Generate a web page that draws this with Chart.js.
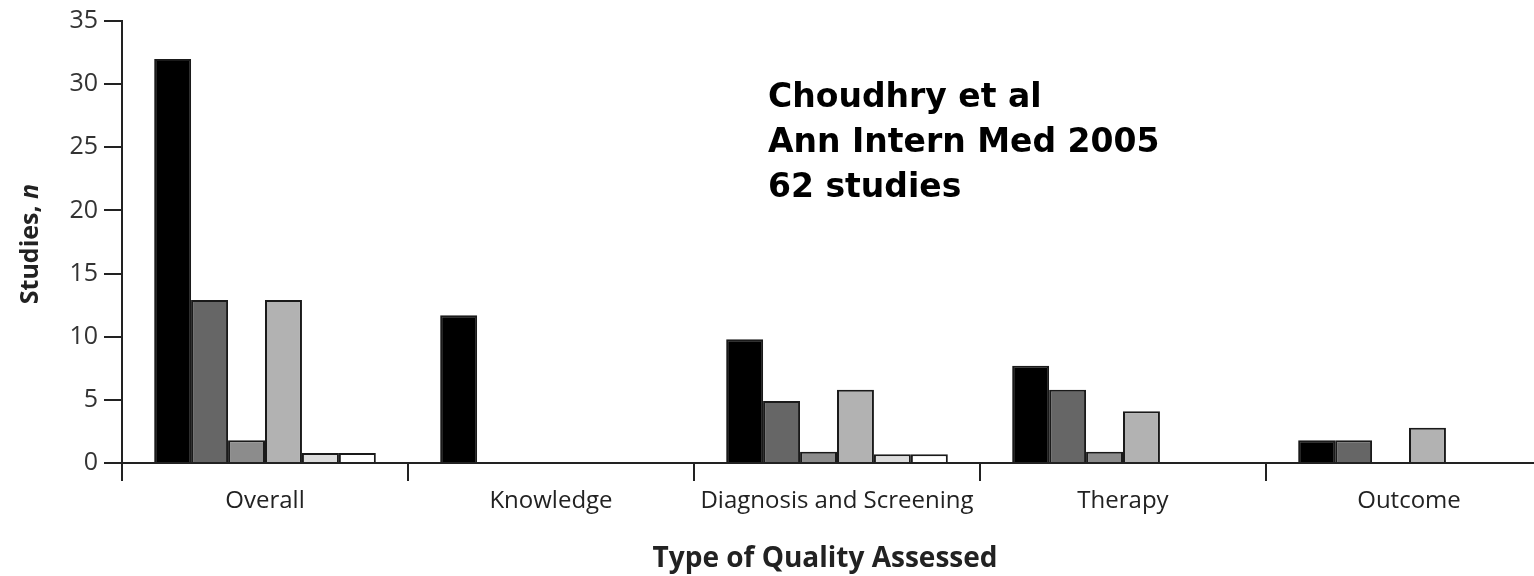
<!DOCTYPE html>
<html>
<head>
<meta charset="utf-8">
<script src="https://cdn.jsdelivr.net/npm/chart.js@4.4.1/dist/chart.umd.min.js"></script>
<style>
    html, body { margin: 0; padding: 0; background: #fff; overflow: hidden; }
    #wrap { position: absolute; left: 0; top: 0; width: 1552px; height: 576px; }
</style>
</head>
<body>
<div id="wrap"><canvas id="qualityChart"></canvas></div>
<script>
// categories and series
const categories = ['Overall', 'Knowledge', 'Diagnosis and Screening', 'Therapy', 'Outcome'];
const seriesA = [32, 11.7, 9.8, 7.7, 1.8];
const seriesB = [12.9, 0, 4.9, 5.8, 1.8];
const seriesC = [1.8, 0, 0.9, 0.9, 0];
const seriesD = [12.9, 0, 5.8, 4.1, 2.8];
const seriesE = [0.8, 0, 0.7, 0, 0];
const seriesF = [0.8, 0, 0.7, 0, 0];
const yTicks = [0, 5, 10, 15, 20, 25, 30, 35];
const noteLines = ['Choudhry et al', 'Ann Intern Med 2005', '62 studies'];

const fills = ['#000000', '#666666', '#8c8c8c', '#b2b2b2', '#dcdcdc', '#ffffff'];

document.addEventListener('DOMContentLoaded', function () {
    const ctx = document.getElementById('qualityChart').getContext('2d');

    const textPlugin = {
        id: 'textPlugin',
        afterDraw(chart) {
            const c = chart.ctx;
            c.save();
            // note in upper middle
            c.fillStyle = '#000';
            c.font = 'bold 33px "DejaVu Sans"';
            c.textAlign = 'left';
            c.textBaseline = 'alphabetic';
            noteLines.forEach((line, i) => {
                c.fillText(line, 768, 107 + i * 45);
            });

            // x axis title
            c.fillStyle = '#222';
            c.font = 'bold 28px "Open Sans"';
            c.textAlign = 'center';
            c.fillText('Type of Quality Assessed', 825, 567);

            // y axis title, "n" in italics
            c.translate(38, 244);
            c.rotate(-Math.PI / 2);
            const partA = 'Studies, ';
            const partB = 'n';
            c.font = 'bold 25px "Open Sans"';
            const wA = c.measureText(partA).width;
            c.font = 'italic bold 25px "Open Sans"';
            const wB = c.measureText(partB).width;
            const x0 = -(wA + wB) / 2;
            c.textAlign = 'left';
            c.font = 'bold 25px "Open Sans"';
            c.fillText(partA, x0, 0);
            c.font = 'italic bold 25px "Open Sans"';
            c.fillText(partB, x0 + wA, 0);
            c.restore();
        }
    };

    const allSeries = [seriesA, seriesB, seriesC, seriesD, seriesE, seriesF];

    new Chart(ctx, {
        type: 'bar',
        data: {
            labels: categories,
            datasets: allSeries.map((s, i) => ({
                label: 'Series ' + (i + 1),
                data: s,
                backgroundColor: fills[i],
                borderColor: '#1a1a1a',
                borderWidth: 2,
                borderSkipped: 'bottom',
                barPercentage: 1.0,
                categoryPercentage: 0.775
            }))
        },
        options: {
            responsive: true,
            maintainAspectRatio: false,
            animation: false,
            layout: { padding: { top: 20, right: 0, left: 0, bottom: 0 } },
            plugins: {
                legend: { display: false },
                tooltip: { enabled: false }
            },
            scales: {
                x: {
                    grid: {
                        display: true,
                        drawOnChartArea: false,
                        drawTicks: true,
                        tickLength: 18,
                        color: '#222',
                        lineWidth: 2,
                        offset: true
                    },
                    border: { display: true, color: '#222', width: 2 },
                    ticks: {
                        color: '#222',
                        font: { family: '"Open Sans"', size: 24 },
                        padding: 6,
                        maxRotation: 0,
                        autoSkip: false
                    },
                    afterFit(scale) { scale.height = 113; }
                },
                y: {
                    min: 0,
                    max: 35,
                    afterBuildTicks(scale) {
                        scale.ticks = yTicks.map(v => ({ value: v }));
                    },
                    grid: {
                        display: true,
                        drawOnChartArea: false,
                        drawTicks: true,
                        tickLength: 18,
                        color: '#222',
                        lineWidth: 2
                    },
                    border: { display: true, color: '#222', width: 2 },
                    ticks: {
                        color: '#333',
                        font: { family: '"Open Sans"', size: 25 },
                        padding: 6
                    },
                    afterFit(scale) { scale.width = 122; }
                }
            }
        },
        plugins: [textPlugin]
    });
});
</script>
</body>
</html>
